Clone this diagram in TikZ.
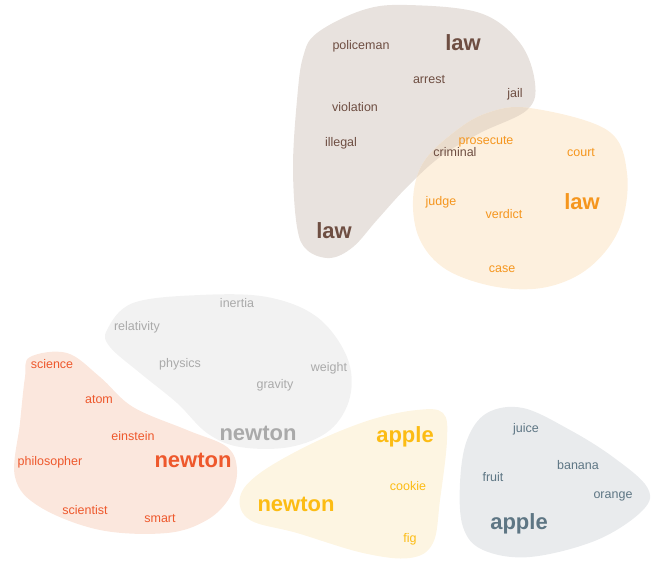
\documentclass[tikz,border=0pt]{standalone}
\usepackage{fontspec}
\setmainfont{Liberation Sans}

% blob outlines, in pixels of the reference
\newcommand\lawbrown{plot[smooth cycle, tension=0.6] coordinates {(317,33) (363,10) (407,5) (480,13) (520,43) (535,83) (527,110) (480,133) (440,157) (407,187) (377,220) (353,247) (330,258) (307,250) (297,227) (293,167) (297,100) (303,57)}}
\newcommand\laworange{plot[smooth cycle, tension=0.6] coordinates {(530,108) (607,130) (627,173) (620,227) (590,267) (547,287) (497,287) (447,270) (420,240) (413,200) (423,163) (453,133) (487,113)}}

\begin{document}
\begin{tikzpicture}[x=1pt, y=-1pt,
  word/.style={font=\fontsize{12.5}{14}\selectfont, inner sep=0pt},
  big/.style={font=\fontsize{22}{25}\selectfont\bfseries, inner sep=0pt}]
  \useasboundingbox (0,0) rectangle (651,562);

  % law / law
  \fill[color={rgb,255:red,232;green,226;blue,222}] \lawbrown;
  \fill[color={rgb,255:red,253;green,240;blue,222}] \laworange;
  \begin{scope}
    \clip \laworange;
    \fill[color={rgb,255:red,234;green,220;blue,204}] \lawbrown;
  \end{scope}

  % newton
  \fill[color={rgb,255:red,242;green,242;blue,242}] plot[smooth cycle, tension=0.6] coordinates {(107,330) (133,303) (200,295) (267,297) (317,317) (347,357) (350,397) (330,430) (290,447) (240,447) (207,433) (177,403) (140,373) (110,347)};
  \fill[color={rgb,255:red,251;green,231;blue,221}] plot[smooth cycle, tension=0.6] coordinates {(30,357) (67,353) (100,377) (133,407) (187,430) (227,447) (237,470) (230,497) (207,520) (167,533) (100,530) (40,507) (15,477) (20,423) (25,377)};

  % apple
  \fill[color={rgb,255:red,253;green,245;blue,226}] plot[smooth cycle, tension=0.6] coordinates {(443,413) (447,440) (440,500) (433,543) (410,558) (363,553) (297,533) (250,520) (240,497) (260,473) (313,443) (370,420) (417,410)};
  \fill[color={rgb,255:red,233;green,235;blue,237}] plot[smooth cycle, tension=0.6] coordinates {(487,413) (523,408) (570,430) (613,457) (647,487) (643,510) (597,540) (530,557) (483,550) (463,527) (460,483) (467,440)};

  \begin{scope}[color={rgb,255:red,110;green,78;blue,66}]
    \node[word] (policeman) at (361,46) {policeman};
    \node[big]  (lawa)      at (463,43) {law};
    \node[word] (arrest)    at (429,80) {arrest};
    \node[word] (jail)      at (515,94) {jail};
    \node[word] (violation) at (355,107) {violation};
    \node[word] (illegal)   at (341,143) {illegal};
    \node[word] (criminal)  at (455,152) {criminal};
    \node[big]  (lawb)      at (334,231) {law};
  \end{scope}
  \begin{scope}[color={rgb,255:red,245;green,150;blue,30}]
    \node[word] (prosecute) at (486,142) {prosecute};
    \node[word] (court)     at (581,153) {court};
    \node[big]  (lawc)      at (582,202) {law};
    \node[word] (judge)     at (441,202) {judge};
    \node[word] (verdict)   at (504,214) {verdict};
    \node[word] (case)      at (502,269) {case};
  \end{scope}
  \begin{scope}[color={rgb,255:red,170;green,170;blue,170}]
    \node[word] (inertia)    at (237,303) {inertia};
    \node[word] (relativity) at (137,327) {relativity};
    \node[word] (physics)    at (180,364) {physics};
    \node[word] (weight)     at (329,368) {weight};
    \node[word] (gravity)    at (275,385) {gravity};
    \node[big]  (newtona)    at (258,433) {newton};
  \end{scope}
  \begin{scope}[color={rgb,255:red,238;green,88;blue,44}]
    \node[word] (science)     at (52,364) {science};
    \node[word] (atom)        at (99,400) {atom};
    \node[word] (einstein)    at (133,436) {einstein};
    \node[word] (philosopher) at (50,462) {philosopher};
    \node[big]  (newtonb)     at (193,460) {newton};
    \node[word] (scientist)   at (85,510) {scientist};
    \node[word] (smart)       at (160,519) {smart};
  \end{scope}
  \begin{scope}[color={rgb,255:red,252;green,188;blue,20}]
    \node[big]  (applea)  at (405,437) {apple};
    \node[word] (cookie)  at (408,486) {cookie};
    \node[big]  (newtonc) at (296,504) {newton};
    \node[word] (fig)     at (410,539) {fig};
  \end{scope}
  \begin{scope}[color={rgb,255:red,94;green,118;blue,132}]
    \node[word] (juice)  at (526,429) {juice};
    \node[word] (banana) at (578,465) {banana};
    \node[word] (fruit)  at (493,477) {fruit};
    \node[word] (orange) at (613,496) {orange};
    \node[big]  (appleb) at (519,524) {apple};
  \end{scope}
\end{tikzpicture}
\end{document}
